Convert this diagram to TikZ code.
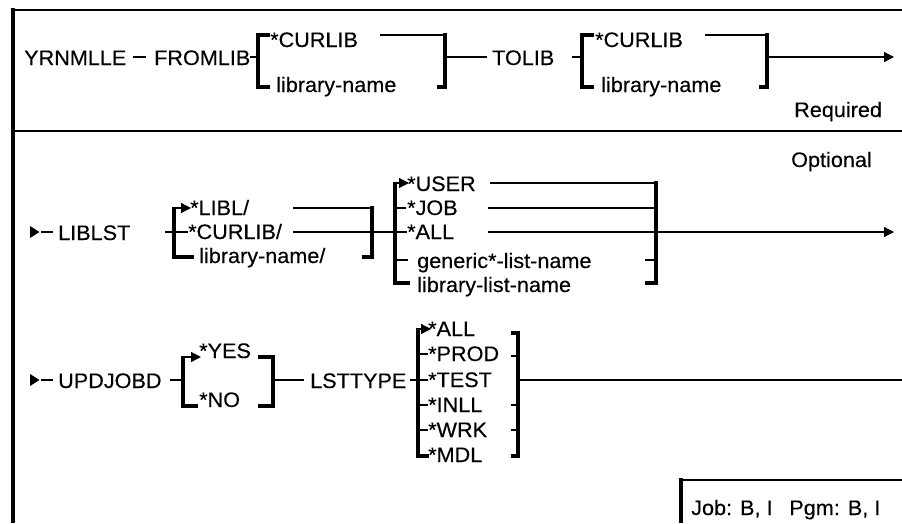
\documentclass[tikz,border=0pt]{standalone}
\usepackage{fontspec}
\setmainfont[FakeStretch=1.03,FakeBold=0.3]{Liberation Sans}
\usetikzlibrary{arrows.meta}
\begin{document}
\begin{tikzpicture}[x=1pt,y=-1pt,
  lbl/.style={font=\fontsize{21}{24}\selectfont, inner sep=0pt, anchor=base west},
  ln/.style={line width=1.3pt},
  brk/.style={line width=3.2pt, line join=miter},
  tip/.style={-{Triangle[length=10pt,width=10pt]}},
  lead/.style={fill=black},
]
\useasboundingbox (0,0) rectangle (902,523);
% frame
\draw[line width=2pt] (11,10) -- (902,10);
\draw[line width=2pt] (11,131) -- (902,131);
\draw[line width=4pt] (13,8) -- (13,523);
% job box
\draw[line width=1.8pt] (681,480) -- (902,480);
\draw[line width=4pt] (681,478) -- (681,523);
\node[lbl] (job) at (691,515) {Job: B, I\hspace{0.8em}Pgm: B, I};

% ---------- row 1 ----------
\node[lbl] (yrn) at (24,65) {YRNMLLE};
\draw[ln] (133,57) -- (146,57);
\node[lbl] (fromlib) at (154,65) {FROMLIB};
\coordinate (a1) at (258,35); \coordinate (a2) at (258,87);
\coordinate (a3) at (445,35); \coordinate (a4) at (445,87);
\draw[ln] (250,57) -- (258,57);
\draw[brk] (270,35) -- (a1) -- (a2) -- (270,87);
\node[lbl] (cur1) at (270,47) {*CURLIB};
\node[lbl] (lib1) at (276,92) {library-name};
\draw[ln] (380,35) -- (a3);
\draw[brk] (445,33.4) -- (a4) -- (437,87);
\node[lbl] (tolib) at (492,65) {TOLIB};
\draw[ln] (445,57) -- (487,57);
\draw[ln] (572,57) -- (582,57);
\coordinate (b1) at (582,35); \coordinate (b2) at (582,87);
\coordinate (b3) at (767,35); \coordinate (b4) at (767,87);
\draw[brk] (594,35) -- (b1) -- (b2) -- (594,87);
\node[lbl] (cur2) at (595,47) {*CURLIB};
\node[lbl] (lib2) at (601,92) {library-name};
\draw[ln] (705,35) -- (b3);
\draw[brk] (767,33.4) -- (b4) -- (759,87);
\coordinate (end1) at (894,57);
\draw[ln,tip] (767,57) -- (end1);
\node[lbl] (req) at (794,117) {Required};

% ---------- row 2 ----------
\node[lbl] (opt) at (791,167) {Optional};
\fill[lead] (30,226) -- (39.5,232) -- (30,238) -- cycle;
\draw[ln] (41,232) -- (53,232);
\node[lbl] (liblst) at (58,240) {LIBLST};
\draw[ln] (165,232) -- (174,232);
\coordinate (c1) at (174,208); \coordinate (c2) at (174,257);
\draw[brk] (c1) -- (c2) -- (194,257);
\draw[ln,tip] (172.4,208) -- (191,208);
\draw[ln] (174,232) -- (188,232);
\node[lbl] (libl) at (190,215) {*LIBL/};
\node[lbl] (curl) at (188,239) {*CURLIB/};
\node[lbl] (libn) at (199,263) {library-name/};
\coordinate (d1) at (372,208); \coordinate (d2) at (372,257);
\draw[ln] (293,208) -- (d1);
\draw[ln] (293,232) -- (407,232);
\draw[brk] (372,206.4) -- (d2) -- (362,257);
% second bracket
\coordinate (e1) at (395,183); \coordinate (e2) at (395,283);
\draw[brk] (e1) -- (e2) -- (410,283);
\draw[ln,tip] (393.4,183) -- (409,183);
\draw[ln] (395,208) -- (406,208);
\draw[ln] (395,260) -- (408,260);
\node[lbl] (user) at (407,191) {*USER};
\node[lbl] (jobo) at (407,215) {*JOB};
\node[lbl] (allo) at (407,239) {*ALL};
\node[lbl] (gen) at (417,268) {generic*-list-name};
\node[lbl] (lln) at (417,292) {library-list-name};
\coordinate (f1) at (656,183); \coordinate (f2) at (656,283);
\draw[line width=2.6pt] (490,183) -- (f1);
\draw[ln] (488,208) -- (656,208);
\draw[ln] (488,232) -- (656,232);
\draw[brk] (656,181.4) -- (f2) -- (645,283);
\draw[ln] (645,260) -- (656,260);
\coordinate (end2) at (894,232);
\draw[ln,tip] (656,232) -- (end2);

% ---------- row 3 ----------
\fill[lead] (30,374) -- (39.5,380) -- (30,386) -- cycle;
\draw[ln] (41,380) -- (53,380);
\node[lbl] (upd) at (58,388) {UPDJOBD};
\draw[ln] (170,380) -- (183,380);
\coordinate (g1) at (183,357); \coordinate (g2) at (183,406);
\draw[brk] (g1) -- (g2) -- (198,406);
\draw[ln,tip] (181.4,357) -- (201,357);
\node[lbl] (yes) at (199,358) {*YES};
\node[lbl] (no) at (199,407) {*NO};
\coordinate (h1) at (273,357); \coordinate (h2) at (273,406);
\draw[brk] (258,357) -- (h1) -- (h2) -- (258,406);
\draw[ln] (273,380) -- (304,380);
\node[lbl] (lst) at (310,388) {LSTTYPE};
\draw[ln] (410,380) -- (418,380);
\coordinate (i1) at (418,329); \coordinate (i2) at (418,456);
\draw[brk] (i1) -- (i2) -- (429,456);
\draw[ln,tip] (416.4,329) -- (431,329);
\foreach \yy in {354,380,405,430} { \draw[ln] (418,\yy) -- (428,\yy); }
\node[lbl] (t1) at (428,336) {*ALL};
\node[lbl] (t2) at (428,361) {*PROD};
\node[lbl] (t3) at (428,387) {*TEST};
\node[lbl] (t4) at (428,412) {*INLL};
\node[lbl] (t5) at (428,437) {*WRK};
\node[lbl] (t6) at (428,462) {*MDL};
\coordinate (j1) at (518,333); \coordinate (j2) at (518,456);
\draw[brk] (511,333) -- (j1) -- (j2) -- (511,456);
\foreach \yy in {356,405,430} { \draw[ln] (511,\yy) -- (518,\yy); }
\draw[ln] (518,380) -- (902,380);
\end{tikzpicture}
\end{document}
